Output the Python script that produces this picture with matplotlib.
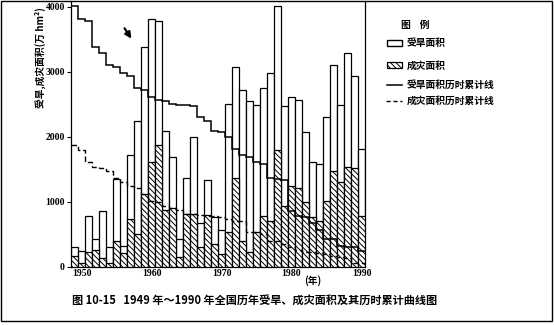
import numpy as np
import matplotlib
matplotlib.use("Agg")
import matplotlib.pyplot as plt
from matplotlib.patches import Rectangle
from matplotlib.lines import Line2D

plt.rcParams['font.family'] = ['Noto Sans CJK SC', 'DejaVu Sans']
plt.rcParams['hatch.linewidth'] = 0.7

# 1949-1990, area in 10^4 hm2
years = list(range(1949, 1991))
drought = [300, 240, 783, 424, 862, 299, 1343, 313, 1720, 2236,
           3381, 3812, 3785, 2081, 1687, 422, 1363, 2002, 676, 1329,
           764, 572, 2505, 3070, 2720, 2555, 2483, 2749, 2985, 4017,
           2465, 2611, 2569, 2070, 1609, 1582, 2299, 3104, 2492, 3290,
           2936, 1818]
disaster = [160, 59, 230, 260, 134, 56, 402, 205, 740, 503,
            1117, 1618, 1865, 869, 902, 142, 811, 811, 307, 795,
            344, 193, 532, 1361, 393, 230, 532, 785, 701, 1797,
            932, 1249, 1213, 997, 759, 702, 1006, 1477, 1303, 1530,
            1526, 781]
# duration curves (values ranked from largest to smallest)
drought_dur = [4017, 3812, 3785, 3381, 3290, 3104, 3070, 2985, 2936, 2749,
               2720, 2611, 2569, 2555, 2505, 2492, 2483, 2465, 2299, 2236,
               2081, 2070, 2002, 1818, 1720, 1687, 1609, 1582, 1363, 1343,
               1329, 862, 783, 764, 676, 572, 424, 422, 313, 300,
               299, 240]
disaster_dur = [1865, 1797, 1618, 1530, 1526, 1477, 1361, 1303, 1249, 1213,
                1117, 1006, 997, 932, 902, 869, 811, 811, 795, 785,
                781, 759, 740, 702, 701, 532, 532, 503, 402, 393,
                344, 307, 260, 230, 230, 205, 193, 160, 142, 134,
                59, 56]
x_ticks = [1950, 1960, 1970, 1980, 1990]
y_ticks = [0, 1000, 2000, 3000, 4000]

W, H = 554, 325
fig = plt.figure(figsize=(W / 100, H / 100), dpi=100)
fig.patch.set_facecolor("white")

ax = fig.add_axes([71 / W, 1 - 266.7 / H, (365 - 71) / W, 265.7 / H])
ax.bar(years, drought, width=1.0, facecolor="white", edgecolor="black", linewidth=0.9, zorder=2)
ax.bar(years, disaster, width=1.0, facecolor="white", edgecolor="black", linewidth=0.9,
       hatch="\\\\\\\\\\\\", zorder=3)
edges = np.arange(years[0] - 0.5, years[-1] + 1.0, 1.0)
ax.stairs(drought_dur, edges, baseline=None, color="black", linewidth=1.1, zorder=4)
ax.stairs(disaster_dur, edges, baseline=None, color="black", linewidth=1.0,
          linestyle=(0, (4, 2)), zorder=4)

ax.set_xlim(years[0] - 0.5, years[-1] + 0.5)
ax.set_ylim(0, 4088)
ax.set_xticks(x_ticks)
ax.set_yticks(y_ticks)
ax.tick_params(axis="x", length=0, pad=2)
ax.tick_params(axis="y", length=3, width=0.8, pad=1.5)
for lab in ax.get_xticklabels() + ax.get_yticklabels():
    lab.set_fontfamily("Liberation Serif")
    lab.set_fontweight("bold")
    lab.set_fontsize(7)
for s in ax.spines.values():
    s.set_linewidth(0.9)
ax.spines["top"].set_visible(False)

# overlay in pixel coordinates for frame, legend and captions
ov = fig.add_axes([0, 0, 1, 1], facecolor="none")
ov.set_xlim(0, W)
ov.set_ylim(H, 0)
ov.axis("off")
ov.add_patch(Rectangle((1, 1), 551, 320, fill=False, edgecolor="black", linewidth=1.0))

ov.text(40, 58, "受旱,成灾面积(万 hm²)", rotation=90, ha="center", va="center",
        fontsize=7, fontweight="bold")
ov.text(313, 281, "(年)", ha="center", va="center", fontsize=7, fontweight="bold")
ov.annotate("", xy=(133, 41), xytext=(123, 26),
            arrowprops=dict(arrowstyle="-|>", lw=1.6, color="black", mutation_scale=9))

# legend
ov.text(415, 25, "图    例", ha="center", va="center", fontsize=7, fontweight="bold")
ov.add_patch(Rectangle((387, 40), 15, 6, facecolor="white", edgecolor="black", linewidth=1.0))
ov.add_patch(Rectangle((387, 62), 15, 6, facecolor="white", edgecolor="black", linewidth=0.9,
                       hatch="\\\\\\\\\\\\"))
ov.add_line(Line2D([387, 402], [85, 85], color="black", linewidth=1.1))
ov.add_line(Line2D([386, 402], [101, 101], color="black", linewidth=1.0, linestyle=(0, (3, 2))))
legend_labels = ["受旱面积", "成灾面积", "受旱面积历时累计线", "成灾面积历时累计线"]
for lab, yy in zip(legend_labels, [43, 66, 85, 101]):
    ov.text(407, yy, lab, ha="left", va="center", fontsize=7, fontweight="bold")

ov.text(72, 300, "图 10-15   1949 年～1990 年全国历年受旱、成灾面积及其历时累计曲线图",
        ha="left", va="center", fontsize=8, fontweight="bold")

fig.savefig("out.png", dpi=100)
